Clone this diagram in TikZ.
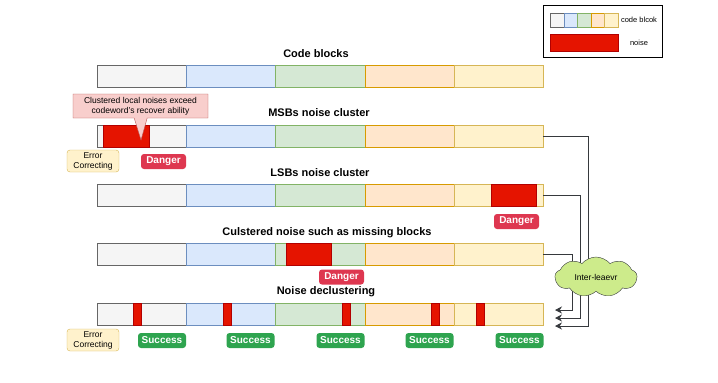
\documentclass[tikz,border=0pt]{standalone}
\usepackage{fontspec}
\setmainfont{Liberation Sans}
\usetikzlibrary{shapes.symbols,shapes.callouts,arrows.meta}

\definecolor{gfill}{HTML}{F5F5F5}\definecolor{gline}{HTML}{666666}
\definecolor{bfill}{HTML}{DAE8FC}\definecolor{bline}{HTML}{6C8EBF}
\definecolor{grfill}{HTML}{D5E8D4}\definecolor{grline}{HTML}{82B366}
\definecolor{ofill}{HTML}{FFE6CC}\definecolor{oline}{HTML}{D79B00}
\definecolor{yfill}{HTML}{FFF2CC}\definecolor{yline}{HTML}{D6B656}
\definecolor{nfill}{HTML}{E51400}\definecolor{nline}{HTML}{B20000}
\definecolor{cfill}{HTML}{F8CECC}\definecolor{cline}{HTML}{B85450}
\definecolor{dangerc}{HTML}{DE3750}\definecolor{successc}{HTML}{2EA44F}
\definecolor{cloudc}{HTML}{CDEB8B}\definecolor{linkc}{HTML}{36393D}

\begin{document}
\begin{tikzpicture}[x=1pt, y=-1pt, thin,
  blk/.style={draw, minimum width=89.2pt, minimum height=22pt, inner sep=0pt, anchor=north west},
  noise/.style={fill=nfill, draw=nline, minimum height=22pt, inner sep=0pt, anchor=north west},
  title/.style={font=\fontsize{11}{12}\selectfont\bfseries},
  badge/.style={rounded corners=3pt, text=white, minimum height=15pt, inner sep=1pt,
    font=\fontsize{10}{11}\selectfont\bfseries},
  danger/.style={badge, fill=dangerc, minimum width=45pt},
  success/.style={badge, fill=successc, minimum width=48pt},
  ecbox/.style={rounded corners=3pt, fill=yfill, draw=yline, minimum width=52pt, minimum height=22pt,
    inner sep=0pt, align=center, font=\fontsize{8.5}{10}\selectfont},
  link/.style={draw=linkc, line width=0.8pt, -{Stealth[length=7pt,width=7pt]}}]

  \useasboundingbox (0,0) rectangle (718,383);

  % -- Code block rows --
  \foreach \r/\y in {0/65,1/125,2/184,3/243,4/303}{
    \foreach \i/\f/\d in {0/gfill/gline,1/bfill/bline,2/grfill/grline,3/ofill/oline,4/yfill/yline}{
      \node[blk, fill=\f, draw=\d] (b\r\i) at (97+89.2*\i, \y) {};
    }
  }

  % -- Row titles --
  \node[title] (t0) at (316,54) {Code blocks};
  \node[title] (t1) at (319,113) {MSBs noise cluster};
  \node[title] (t2) at (320,173) {LSBs noise cluster};
  \node[title] (t3) at (327,233) {Culstered noise such as missing blocks};
  \node[title] (t4) at (326,292) {Noise declustering};

  % -- Noise --
  \node[noise, minimum width=46pt] (n1) at (103,125) {};
  \node[noise, minimum width=45pt] (n2) at (491,184) {};
  \node[noise, minimum width=45pt] (n3) at (286,243) {};
  \foreach \x [count=\k] in {133,223,342,431,476}
    \node[noise, minimum width=8pt] (m\k) at (\x,303) {};

  % -- Callout --
  \coordinate (tip) at (141,140);
  \node[rectangle callout, callout absolute pointer=(tip), callout pointer width=13pt,
    fill=cfill, draw=cline, minimum width=135pt, minimum height=24pt, inner sep=1pt,
    align=center, font=\fontsize{8.5}{10}\selectfont] (note) at (140.5,106)
    {Clustered local noises exceed\\codeword's recover ability};

  % -- Badges --
  \node[ecbox] (ec1) at (93,161) {Error\\Correcting};
  \node[ecbox] (ec2) at (93,340) {Error\\Correcting};
  \node[danger] (d1) at (163.5,161.5) {Danger};
  \node[danger] (d2) at (516.5,221.5) {Danger};
  \node[danger] (d3) at (341.5,277) {Danger};
  \foreach \x [count=\k] in {162,250.5,340.5,429.5,519.5}
    \node[success] (s\k) at (\x,340.5) {Success};

  % -- Interleaver links --
  \coordinate (in1) at (555,310);
  \coordinate (in2) at (555,318);
  \coordinate (in3) at (555,326);
  \draw[link] (b14.east) -| ([xshift=33pt]in3) -- (in3);
  \draw[link] (b24.east) -| ([xshift=25pt]in2) -- (in2);
  \draw[link] (b34.east) -| ([xshift=17pt]in1) -- (in1);

  \node[cloud, cloud puffs=9, cloud puff arc=100, aspect=2, draw=linkc, fill=cloudc,
    minimum width=82pt, minimum height=40pt, inner sep=0pt,
    font=\fontsize{8.5}{10}\selectfont] (il) at (596,277) {Inter-leaevr};

  % -- Legend --
  \node[draw, minimum width=119pt, minimum height=52pt, anchor=north west] (key) at (543,5) {};
  \foreach \i/\f/\d in {0/gfill/gline,1/bfill/bline,2/grfill/grline,3/ofill/oline,4/yfill/yline}
    \node[blk, fill=\f, draw=\d, minimum width=13.6pt, minimum height=14pt] (k\i) at (550+13.6*\i,13) {};
  \node[noise, minimum width=68pt, minimum height=17pt] (kn) at (550,34) {};
  \node[font=\fontsize{7.5}{8}\selectfont] (kt1) at (639,20) {code blcok};
  \node[font=\fontsize{7.5}{8}\selectfont] (kt2) at (639,43) {noise};

\end{tikzpicture}
\end{document}
